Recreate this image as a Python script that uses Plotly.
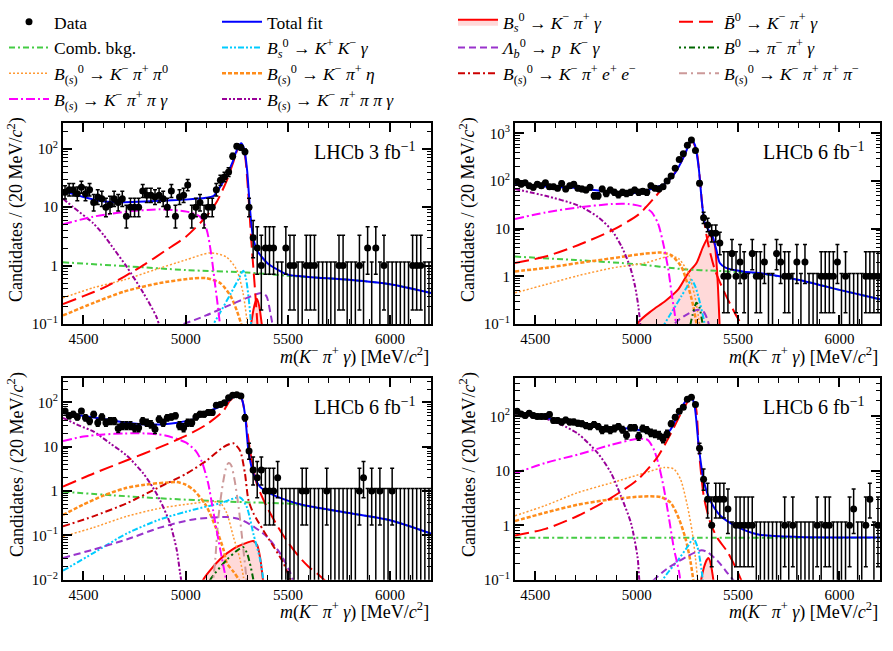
import math
import plotly.graph_objects as go

FONT = "Liberation Serif"
W, H = 893, 651

# ---------------- data: 20 MeV bins from 4400 to 6200 ----------------
BIN_CENTERS = [4410 + 20 * i for i in range(90)]

p1_counts = [18, 20, 20, 17, 22, 17, 20, 12, 15, 14, 10, 11, 14, 12, 14, 7, 10, 10, 10, 19,
             16, 16, 15, 16, 14, 10, 19, 7, 15, 16, 24, 7, 10, 12, 7, 10, 10, 20, 29, 33,
             40, 75, 111, 105, 89,
             10, 3, 2, 1, 2, 2, 2, 0, 0, 2, 1, 1, 0, 0, 1, 1, 1, 0, 0, 0,
             0, 0, 1, 1, 0, 0, 0, 1, 0, 2, 0, 2, 0, 1, 0, 0, 0, 0, 0, 0, 1, 1, 1, 0, 0]
p2_counts = [98, 86, 92, 80, 74, 86, 80, 92, 76, 76, 71, 89, 68, 80, 86, 71, 68, 65, 74, 49,
             49, 68, 55, 65, 58, 52, 58, 55, 58, 65, 58, 61, 58, 80, 71, 68, 76, 101, 128, 185,
             285, 375, 565, 730, 440,
             90, 17, 12, 8, 8, 5, 1, 1, 3, 1, 2, 1, 0, 3, 1, 1, 2, 0, 0, 3,
             2, 1, 1, 0, 2, 0, 2, 0, 0, 0, 1, 1, 1, 1, 2, 0, 1, 0, 0, 0, 0, 1, 1, 1, 1]
p3_counts = [64, 50, 54, 47, 64, 45, 38, 54, 35, 47, 35, 38, 38, 26, 30, 30, 30, 27, 27, 38,
             35, 32, 25, 42, 35, 45, 47, 50, 30, 27, 35, 35, 47, 54, 54, 59, 59, 87, 90, 98,
             128, 146, 150, 140, 45,
             8, 3, 2, 3, 1, 1, 1, 2, 0, 0, 0, 0, 0, 1, 1, 0, 0, 0, 0, 1,
             0, 0, 0, 0, 0, 0, 0, 1, 2, 0, 1, 0, 1, 0, 0, 1, 0, 0, 0, 0, 0, 0, 0, 0, 0]
p4_counts = [124, 111, 104, 114, 104, 100, 100, 100, 108, 84, 84, 79, 86, 79, 79, 75, 73, 68, 65, 71,
             65, 56, 60, 56, 60, 65, 57, 45, 62, 62, 43, 60, 56, 50, 48, 45, 39, 48, 73, 97,
             124, 147, 207, 225, 165,
             26, 7, 3, 1, 3, 3, 3, 2, 0, 1, 1, 1, 1, 1, 0, 0, 0, 0, 0, 0,
             0, 1, 0, 1, 0, 0, 0, 0, 0, 1, 0, 1, 1, 0, 0, 0, 0, 1, 2, 0, 0, 1, 3, 0, 1]

# ---------------- fit curves: (mass, candidates) ----------------
# panel 1 (3 fb-1)
p1_total = [(4400, 19), (4500, 15), (4600, 12.5), (4700, 12.2), (4800, 12.5), (4900, 13), (5000, 13.5),
            (5100, 14.5), (5135, 15.5), (5160, 20), (5200, 35), (5230, 60), (5255, 105), (5272, 125),
            (5286, 100), (5300, 45), (5315, 9), (5330, 3), (5350, 1.8), (5400, 1.1), (5450, 0.85),
            (5500, 0.7), (5600, 0.64), (5800, 0.57), (6000, 0.48), (6200, 0.34)]
p1_comb = [(4400, 1.14), (4700, 0.98), (5000, 0.84), (5300, 0.76), (5500, 0.67), (5800, 0.57),
           (6000, 0.48), (6200, 0.34)]
p1_bbar = [(4400, 0.22), (4500, 0.3), (4600, 0.42), (4700, 0.65), (4800, 1.05), (4900, 1.8), (5000, 3.1),
           (5100, 6.9), (5150, 12), (5200, 28), (5230, 55), (5255, 100), (5272, 118), (5288, 85),
           (5305, 20), (5320, 3), (5335, 0.6), (5345, 0.2), (5355, 0.06)]
p1_kppg = [(4400, 5.1), (4548, 6.9), (4711, 8.4), (4874, 9.2), (5005, 8.4), (5070, 6.9), (5103, 4.1),
           (5127, 1.4), (5143, 0.5), (5160, 0.17), (5172, 0.07)]
p1_kpppg = [(4400, 14), (4450, 10), (4548, 5.3), (4600, 3.3), (4650, 1.9), (4711, 0.96), (4793, 0.34),
            (4858, 0.13), (4880, 0.07)]
p1_kpp0 = [(4400, 0.28), (4550, 0.42), (4700, 0.57), (4850, 0.85), (5000, 1.25), (5120, 1.65),
           (5200, 1.4), (5250, 0.84), (5280, 0.35), (5298, 0.13), (5310, 0.06)]
p1_kpeta = [(4400, 0.14), (4550, 0.23), (4700, 0.36), (4870, 0.5), (5030, 0.6), (5100, 0.61),
            (5170, 0.5), (5220, 0.3), (5250, 0.17), (5275, 0.09), (5287, 0.05)]
p1_kkg = [(5120, 0.08), (5170, 0.16), (5220, 0.33), (5260, 0.6), (5282, 0.82), (5295, 0.6),
          (5308, 0.28), (5318, 0.12), (5327, 0.05)]
p1_lb = [(4990, 0.1), (5100, 0.14), (5200, 0.2), (5300, 0.28), (5370, 0.34), (5395, 0.3),
         (5415, 0.15), (5432, 0.07)]
p1_bs = [(5300, 0.03), (5320, 0.1), (5335, 0.2), (5348, 0.27), (5360, 0.2), (5372, 0.1), (5388, 0.03)]

# panel 2 (6 fb-1, top right)
p2_total = [(4400, 88), (4500, 80), (4600, 75), (4700, 72), (4800, 64), (4900, 57), (4975, 55),
            (5050, 64), (5100, 75), (5140, 88), (5190, 150), (5238, 365), (5260, 620), (5272, 740),
            (5288, 560), (5306, 190), (5322, 35), (5336, 13), (5360, 8.6), (5375, 6.8), (5393, 3.6),
            (5410, 1.9), (5440, 1.5), (5530, 1.25), (5620, 1.15), (5800, 0.84), (6000, 0.52),
            (6200, 0.33)]
p2_comb = [(4400, 2.6), (4700, 2.2), (5000, 1.8), (5240, 1.4), (5400, 1.3), (5530, 1.2),
           (5620, 1.12), (5800, 0.84), (6000, 0.52), (6200, 0.33)]
p2_bbar = [(4400, 1.9), (4550, 2.6), (4710, 4.5), (4880, 9.3), (5010, 20), (5090, 46), (5156, 100),
           (5205, 190), (5250, 480), (5272, 700), (5295, 430), (5312, 110), (5328, 20), (5352, 4.9),
           (5385, 1.4), (5434, 0.45), (5484, 0.17), (5520, 0.09), (5540, 0.05)]
p2_kppg = [(4400, 16), (4550, 22), (4710, 28), (4880, 33), (4960, 33), (5040, 28), (5075, 22),
           (5106, 12.7), (5131, 4.9), (5156, 1.4), (5172, 0.45), (5189, 0.15), (5200, 0.06)]
p2_kpppg = [(4400, 68), (4550, 49), (4710, 31), (4810, 17.5), (4877, 9.3), (4926, 4.2), (4967, 1.6),
            (4992, 0.62), (5008, 0.24), (5020, 0.08)]
p2_kpeta = [(4400, 1.27), (4550, 1.5), (4710, 1.9), (4880, 2.4), (5040, 3.0), (5120, 3.15),
            (5170, 2.8), (5220, 1.6), (5254, 0.62), (5279, 0.24), (5295, 0.1), (5305, 0.05)]
p2_kpp0 = [(4400, 0.45), (4550, 0.67), (4710, 1.03), (4880, 1.5), (5040, 1.9), (5156, 2.6),
           (5205, 2.4), (5254, 1.17), (5287, 0.38), (5310, 0.1), (5320, 0.05)]
p2_kkg = [(5115, 0.07), (5170, 0.17), (5220, 0.38), (5250, 0.62), (5270, 0.85), (5290, 0.6),
          (5310, 0.3), (5330, 0.13), (5345, 0.06)]
p2_lb = [(5150, 0.07), (5205, 0.12), (5260, 0.17), (5300, 0.2), (5330, 0.18), (5350, 0.12),
         (5366, 0.06)]
p2_ppg = [(5255, 0.06), (5275, 0.15), (5295, 0.28), (5310, 0.22), (5325, 0.1), (5340, 0.05)]
p2_bs = [(4990, 0.05), (5008, 0.107), (5074, 0.19), (5140, 0.3), (5205, 0.53), (5254, 1.17),
         (5295, 1.9), (5328, 4.2), (5360, 7.3), (5383, 5), (5398, 1.0), (5408, 0.12), (5412, 0.04)]

# panel 3 (6 fb-1, bottom left)
p3_total = [(4400, 59), (4550, 46), (4710, 35), (4800, 32), (4880, 32), (4960, 35), (5040, 42),
            (5100, 59), (5170, 83), (5217, 117), (5245, 147), (5265, 150), (5280, 100), (5292, 46),
            (5307, 8.2), (5331, 2.5), (5364, 1.25), (5430, 0.81), (5530, 0.55), (5600, 0.46),
            (5800, 0.32), (6000, 0.22), (6200, 0.11)]
p3_comb = [(4400, 0.97), (4650, 0.8), (4870, 0.69), (5200, 0.58), (5530, 0.51), (5600, 0.45),
           (5800, 0.32), (6000, 0.22), (6200, 0.11)]
p3_bbar = [(4400, 1.26), (4550, 2.5), (4710, 4.9), (4874, 9.8), (5005, 18), (5103, 32), (5184, 64),
           (5217, 111), (5250, 139), (5272, 127), (5290, 54), (5315, 8.2), (5347, 1.5), (5396, 0.45),
           (5450, 0.16), (5500, 0.07), (5550, 0.035), (5600, 0.02), (5650, 0.013), (5700, 0.008)]
p3_kppg = [(4400, 13.5), (4500, 17), (4600, 19), (4700, 20), (4800, 20), (4900, 18), (5000, 12.5),
           (5050, 8), (5080, 4.5), (5110, 1.5), (5135, 0.35), (5160, 0.08), (5185, 0.02), (5200, 0.009)]
p3_kpppg = [(4400, 45), (4480, 30), (4550, 22), (4630, 12), (4711, 6.4), (4793, 2.5), (4840, 1.2),
            (4874, 0.63), (4923, 0.19), (4956, 0.048), (4972, 0.015), (4985, 0.006)]
p3_kpee = [(4400, 0.16), (4548, 0.27), (4711, 0.53), (4874, 1.25), (5005, 2.5), (5103, 4.9),
           (5184, 9.8), (5233, 12), (5266, 8.2), (5290, 2.5), (5307, 0.63), (5331, 0.32),
           (5380, 0.13), (5429, 0.057), (5478, 0.024), (5520, 0.008)]
p3_kppp = [(5130, 0.006), (5145, 0.03), (5160, 0.25), (5180, 1.3), (5200, 3.7), (5210, 4.3),
           (5222, 3.9), (5240, 1.7), (5260, 0.4), (5280, 0.06), (5298, 0.01), (5305, 0.004)]
p3_kpeta = [(4400, 0.29), (4500, 0.5), (4600, 0.8), (4700, 1.15), (4800, 1.4), (4900, 1.55),
            (4956, 1.6), (5000, 1.4), (5040, 1.05), (5100, 0.47), (5150, 0.14), (5185, 0.048),
            (5201, 0.024), (5235, 0.015), (5260, 0.01), (5275, 0.006)]
p3_kpp0 = [(4400, 0.095), (4548, 0.15), (4711, 0.27), (4874, 0.41), (5037, 0.53), (5120, 0.58),
           (5168, 0.55), (5201, 0.32), (5233, 0.095), (5266, 0.029), (5282, 0.012), (5292, 0.006)]
p3_kkg = [(4400, 0.016), (4548, 0.04), (4711, 0.11), (4874, 0.23), (5037, 0.38), (5168, 0.53),
          (5266, 0.72), (5298, 0.45), (5331, 0.11), (5364, 0.029), (5380, 0.01), (5390, 0.005)]
p3_lb = [(4400, 0.031), (4548, 0.048), (4711, 0.081), (4874, 0.15), (5037, 0.23), (5201, 0.26),
         (5266, 0.23), (5331, 0.16), (5396, 0.095), (5461, 0.04), (5510, 0.015), (5530, 0.008)]
p3_ppg = [(5100, 0.006), (5120, 0.01), (5200, 0.028), (5250, 0.045), (5280, 0.055), (5300, 0.04),
          (5320, 0.018), (5335, 0.008), (5342, 0.005)]
p3_bs = [(5075, 0.006), (5086, 0.01), (5168, 0.029), (5233, 0.05), (5298, 0.068), (5330, 0.075),
         (5350, 0.06), (5365, 0.03), (5378, 0.01), (5385, 0.005)]

# panel 4 (6 fb-1, bottom right)
p4_total = [(4400, 120), (4550, 95), (4710, 74), (4874, 61), (4972, 60), (5070, 50), (5135, 45),
            (5168, 58), (5201, 104), (5236, 180), (5268, 235), (5285, 160), (5307, 26), (5331, 6.5),
            (5364, 2.8), (5413, 1.5), (5494, 0.95), (5600, 0.68), (5800, 0.61), (6000, 0.6), (6200, 0.6)]
p4_comb = [(4400, 0.59), (5300, 0.59), (6200, 0.59)]
p4_bbar = [(4400, 0.65), (4550, 0.86), (4711, 1.5), (4874, 3.2), (5005, 6.9), (5103, 18), (5168, 48),
           (5217, 111), (5250, 182), (5270, 225), (5292, 147), (5307, 24), (5331, 3.4), (5364, 1.1),
           (5396, 0.6), (5449, 0.32), (5498, 0.14), (5531, 0.07), (5550, 0.04)]
p4_kppg = [(4400, 9), (4550, 14), (4711, 20), (4874, 30), (5005, 39), (5054, 37), (5086, 24),
           (5111, 12), (5135, 4.6), (5160, 1.3), (5184, 0.37), (5209, 0.14), (5222, 0.06)]
p4_kpppg = [(4400, 104), (4548, 91), (4630, 70), (4711, 48), (4809, 21), (4874, 9.1), (4923, 3.4),
            (4972, 1.1), (5005, 0.25), (5013, 0.1), (5022, 0.05)]
p4_kpp0 = [(4400, 1.5), (4548, 2.3), (4711, 4), (4874, 6), (5037, 9.1), (5135, 11.5), (5184, 10.8),
           (5217, 6.9), (5250, 2.3), (5274, 0.75), (5290, 0.25), (5302, 0.09), (5310, 0.05)]
p4_kpeta = [(4400, 1.2), (4548, 1.7), (4711, 2.4), (4874, 3), (5037, 3.4), (5119, 3.3), (5168, 2.6),
            (5209, 1.3), (5241, 0.57), (5266, 0.21), (5279, 0.1), (5290, 0.05)]
p4_kkg = [(5100, 0.07), (5150, 0.13), (5200, 0.22), (5250, 0.4), (5280, 0.57), (5300, 0.4),
          (5320, 0.15), (5332, 0.06)]
p4_lb = [(5040, 0.07), (5150, 0.16), (5250, 0.27), (5320, 0.35), (5350, 0.32), (5400, 0.22),
         (5450, 0.13), (5490, 0.085), (5510, 0.06)]
p4_bs = [(5305, 0.05), (5318, 0.1), (5332, 0.17), (5345, 0.23), (5355, 0.25), (5365, 0.2),
         (5375, 0.12), (5388, 0.05)]

LUMI_LABELS = ["LHCb 3 fb<sup>\u22121</sup>", "LHCb 6 fb<sup>\u22121</sup>",
               "LHCb 6 fb<sup>\u22121</sup>", "LHCb 6 fb<sup>\u22121</sup>"]
X_TICKS = [4500, 5000, 5500, 6000]

# ---------------- styles / labels ----------------
BS = "<i>B</i><sub>(<i>s</i>)</sub>"
KPI = "<i>K</i><sup>\u2212</sup> <i>\u03c0</i><sup>+</sup>"
LABELS = {
    "data": "Data",
    "total": "Total fit",
    "bs": "<i>B</i><sub><i>s</i></sub><sup>0</sup> \u2192 " + KPI + " <i>\u03b3</i>",
    "bbar": "<i>B\u0304</i><sup>0</sup> \u2192 " + KPI + " <i>\u03b3</i>",
    "comb": "Comb. bkg.",
    "kkg": "<i>B</i><sub><i>s</i></sub><sup>0</sup> \u2192 <i>K</i><sup>+</sup> <i>K</i><sup>\u2212</sup> <i>\u03b3</i>",
    "lb": "<i>\u039b</i><sub><i>b</i></sub><sup>0</sup> \u2192 <i>p</i>  <i>K</i><sup>\u2212</sup> <i>\u03b3</i>",
    "ppg": "<i>B</i><sup>0</sup> \u2192 <i>\u03c0</i><sup>\u2212</sup> <i>\u03c0</i><sup>+</sup> <i>\u03b3</i>",
    "kpp0": BS + "<sup>0</sup> \u2192 " + KPI + " <i>\u03c0</i><sup>0</sup>",
    "kpeta": BS + "<sup>0</sup> \u2192 " + KPI + " <i>\u03b7</i>",
    "kpee": BS + "<sup>0</sup> \u2192 " + KPI + " <i>e</i><sup>+</sup> <i>e</i><sup>\u2212</sup>",
    "kppp": BS + "<sup>0</sup> \u2192 " + KPI + " <i>\u03c0</i><sup>+</sup> <i>\u03c0</i><sup>\u2212</sup>",
    "kppg": BS + " \u2192 " + KPI + " <i>\u03c0</i> <i>\u03b3</i>",
    "kpppg": BS + " \u2192 " + KPI + " <i>\u03c0</i> <i>\u03c0</i> <i>\u03b3</i>",
}
STYLE = {
    "total": dict(color="#0000ff", dash="solid", width=2),
    "comb": dict(color="#44cc44", dash="6px,3px,2px,3px", width=2),
    "kkg": dict(color="#00ccff", dash="6px,2px,2px,2px,2px,2px", width=2),
    "kpp0": dict(color="#ff9933", dash="2px,2px", width=1.5),
    "kpeta": dict(color="#ff8c1a", dash="4px,2px", width=2.5),
    "kppg": dict(color="#ff00ff", dash="9px,3px,2px,3px", width=2),
    "kpppg": dict(color="#990099", dash="5px,2px,2px,2px,2px,2px", width=2),
    "bs": dict(color="#ff0000", dash="solid", width=2),
    "bbar": dict(color="#ff0000", dash="14px,6px", width=2),
    "lb": dict(color="#9933cc", dash="7px,4px", width=2),
    "ppg": dict(color="#006600", dash="2px,3px,2px,3px,6px,3px", width=2),
    "kpee": dict(color="#cc0000", dash="7px,3px,2px,3px", width=2),
    "kppp": dict(color="#cc9999", dash="8px,4px,2px,4px", width=2),
}
LEGEND_OF = {"data": ("legend", 1), "comb": ("legend", 2), "kpp0": ("legend", 3), "kppg": ("legend", 4),
             "total": ("legend2", 1), "kkg": ("legend2", 2), "kpeta": ("legend2", 3), "kpppg": ("legend2", 4),
             "bs": ("legend3", 1), "lb": ("legend3", 2), "kpee": ("legend3", 3),
             "bbar": ("legend4", 1), "ppg": ("legend4", 2), "kppp": ("legend4", 3)}

PANEL_CURVES = [
    {"bs": p1_bs, "comb": p1_comb, "kpp0": p1_kpp0, "kpeta": p1_kpeta, "kkg": p1_kkg, "lb": p1_lb,
     "kpppg": p1_kpppg, "kppg": p1_kppg, "bbar": p1_bbar, "total": p1_total},
    {"bs": p2_bs, "comb": p2_comb, "kpp0": p2_kpp0, "kpeta": p2_kpeta, "kkg": p2_kkg, "lb": p2_lb,
     "ppg": p2_ppg, "kpppg": p2_kpppg, "kppg": p2_kppg, "bbar": p2_bbar, "total": p2_total},
    {"bs": p3_bs, "comb": p3_comb, "kpp0": p3_kpp0, "kpeta": p3_kpeta, "kkg": p3_kkg, "lb": p3_lb,
     "ppg": p3_ppg, "kppp": p3_kppp, "kpee": p3_kpee, "kpppg": p3_kpppg, "kppg": p3_kppg,
     "bbar": p3_bbar, "total": p3_total},
    {"bs": p4_bs, "comb": p4_comb, "kpp0": p4_kpp0, "kpeta": p4_kpeta, "kkg": p4_kkg, "lb": p4_lb,
     "kpppg": p4_kpppg, "kppg": p4_kppg, "bbar": p4_bbar, "total": p4_total},
]
PANEL_COUNTS = [p1_counts, p2_counts, p3_counts, p4_counts]

# panel frames in pixels (left, right, top, bottom) and log10 y-ranges
PANEL_PX = [(63, 431, 125, 328), (515, 880, 125, 328), (63, 431, 383, 587), (515, 880, 383, 587)]
Y_RANGES = [(-1, 2.435), (-1, 3.21), (-2, 2.545), (-1, 2.70)]


# ---------------- helpers ----------------
def pois_cdf(n, mu):
    s = 0.0
    for k in range(n + 1):
        s += math.exp(-mu + k * math.log(mu) - math.lgamma(k + 1))
    return s


def solve(f, lo, hi):
    for _ in range(80):
        mid = 0.5 * (lo + hi)
        if f(mid) > 0:
            lo = mid
        else:
            hi = mid
    return 0.5 * (lo + hi)


def poisson_interval(n):
    alpha = 0.158655
    if n == 0:
        return 0.0, -math.log(2 * alpha)
    if n > 60:
        s = math.sqrt(n + 0.25)
        return n + 0.5 - s, n + 0.5 + s
    top = n + 10 * math.sqrt(n) + 10
    up = solve(lambda m: pois_cdf(n, m) - alpha, 1e-9, top)
    low = solve(lambda m: alpha - (1 - pois_cdf(n - 1, m)), 1e-9, top)
    return low, up


def pow_label(e):
    if e == 0:
        return "1"
    if e == 1:
        return "10"
    return "10<sup>" + ("\u2212" if e < 0 else "") + str(abs(e)) + "</sup>"


fx = lambda px: px / W
fy = lambda py: 1 - py / H

fig = go.Figure()
shown = set()
annotations = []

for i in range(4):
    ax = "" if i == 0 else str(i + 1)
    xref, yref = "x" + ax, "y" + ax
    curves = PANEL_CURVES[i]
    for key, pts in curves.items():
        st = STYLE[key]
        leg, rank = LEGEND_OF[key]
        xs = [p[0] for p in pts]
        ys = [p[1] for p in pts]
        kw = {}
        if key == "bs":
            kw = dict(fill="toself", fillcolor="rgba(255,0,0,0.15)")
        fig.add_trace(go.Scatter(
            x=xs, y=ys, mode="lines", xaxis=xref, yaxis=yref,
            line=dict(color=st["color"], dash=st["dash"], width=st["width"], shape="spline", smoothing=0.7),
            name=LABELS[key], legendgroup=key, showlegend=key not in shown,
            legend=leg, legendrank=rank, hoverinfo="skip", **kw))
        shown.add(key)

    counts = PANEL_COUNTS[i]
    ys, up, dn = [], [], []
    for n in counts:
        lo, hi = poisson_interval(n)
        y = n if n > 0 else 1e-6
        ys.append(y)
        up.append(hi - y)
        dn.append(max(y - lo, 0) if n > 0 else 0)
    fig.add_trace(go.Scatter(
        x=BIN_CENTERS, y=ys, mode="markers", xaxis=xref, yaxis=yref,
        marker=dict(color="black", size=7, symbol="circle"),
        error_y=dict(type="data", symmetric=False, array=up, arrayminus=dn,
                     color="black", thickness=1.5, width=2),
        name=LABELS["data"], legendgroup="data", showlegend="data" not in shown,
        legend="legend", legendrank=1, hoverinfo="skip"))
    shown.add("data")

    L, R, T, B = PANEL_PX[i]
    y0, y1 = Y_RANGES[i]
    decades = list(range(math.ceil(y0), math.floor(y1) + 1))
    fig.update_layout(**{
        "xaxis" + ax: dict(domain=[fx(L), fx(R)], anchor=yref, range=[4400, 6200],
                           tickmode="array", tickvals=X_TICKS, ticks="inside", ticklen=9,
                           tickwidth=1.5, tickcolor="black", mirror="allticks", showline=True,
                           linecolor="black", linewidth=2, showgrid=False, zeroline=False,
                           tickfont=dict(family=FONT, size=15, color="black"),
                           minor=dict(tickmode="linear", tick0=4400, dtick=100, ticks="inside",
                                      ticklen=4.5, tickwidth=1.2, tickcolor="black", showgrid=False)),
        "yaxis" + ax: dict(domain=[fy(B), fy(T)], anchor=xref, type="log", range=[y0, y1],
                           tickmode="array", tickvals=[10 ** e for e in decades],
                           ticktext=[pow_label(e) for e in decades], ticks="inside", ticklen=9,
                           tickwidth=1.5, tickcolor="black", mirror="allticks", showline=True,
                           linecolor="black", linewidth=2, showgrid=False, zeroline=False,
                           tickfont=dict(family=FONT, size=15, color="black"),
                           minor=dict(dtick="D1", ticks="inside", ticklen=4.5, tickwidth=1.2,
                                      tickcolor="black", showgrid=False)),
    })
    annotations.append(dict(text=LUMI_LABELS[i], xref="paper", yref="paper", x=fx(R - 13),
                            y=fy(T + 28), xanchor="right", yanchor="middle", showarrow=False,
                            font=dict(family=FONT, size=20, color="black")))
    annotations.append(dict(text="Candidates / (20 MeV/<i>c</i><sup>2</sup>)", xref="paper",
                            yref="paper", x=fx(L - 47), y=fy(T - 8), xanchor="center",
                            yanchor="top", textangle=-90, showarrow=False,
                            font=dict(family=FONT, size=18, color="black")))
    annotations.append(dict(text="<i>m</i>(" + KPI + " <i>\u03b3</i>) [MeV/<i>c</i><sup>2</sup>]",
                            xref="paper", yref="paper", x=fx(R), y=fy(B + 32), xanchor="right",
                            yanchor="middle", showarrow=False,
                            font=dict(family=FONT, size=18, color="black")))

legend_common = dict(xref="paper", yref="paper", xanchor="left", yanchor="top", orientation="v",
                     bgcolor="rgba(0,0,0,0)", borderwidth=0, tracegroupgap=0, itemwidth=40,
                     font=dict(family=FONT, size=17.5, color="black"), traceorder="normal")
fig.update_layout(
    width=W, height=H, margin=dict(l=0, r=0, t=0, b=0),
    paper_bgcolor="white", plot_bgcolor="white",
    font=dict(family=FONT, color="black"),
    annotations=annotations,
    legend=dict(x=fx(4), y=fy(4), **legend_common),
    legend2=dict(x=fx(217), y=fy(4), **legend_common),
    legend3=dict(x=fx(453), y=fy(4), **legend_common),
    legend4=dict(x=fx(674), y=fy(4), **legend_common),
)

fig.write_html("out.html")
